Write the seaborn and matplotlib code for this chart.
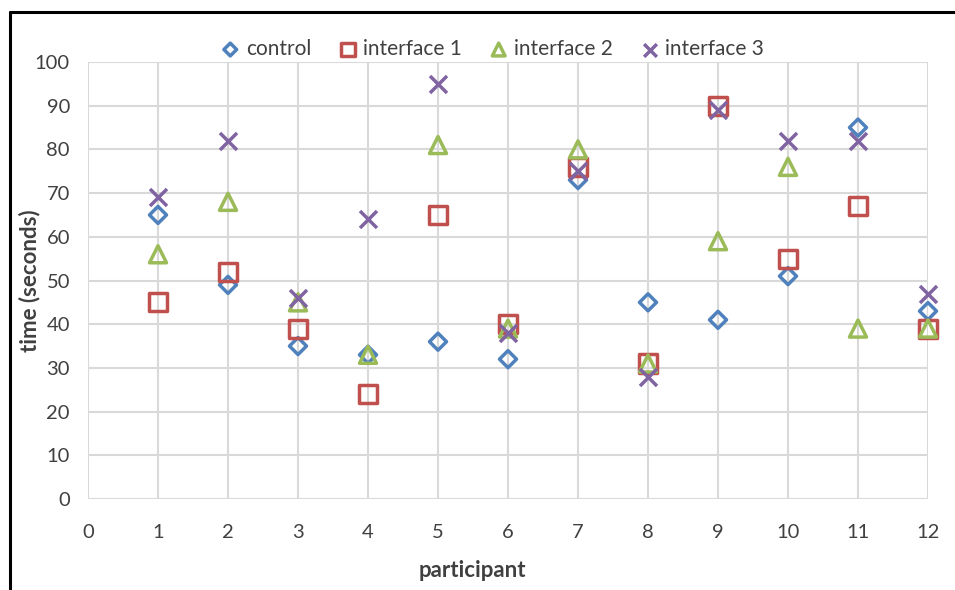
import matplotlib
matplotlib.use("Agg")
import matplotlib.pyplot as plt
from matplotlib.lines import Line2D
import seaborn as sns

# participants 1..12, time in seconds
participants = [1, 2, 3, 4, 5, 6, 7, 8, 9, 10, 11, 12]
control = [65, 49, 35, 33, 36, 32, 73, 45, 41, 51, 85, 43]
interface_1 = [45, 52, 39, 24, 65, 40, 76, 31, 90, 55, 67, 39]
interface_2 = [56, 68, 45, 33, 81, 39, 80, 31, 59, 76, 39, 39]
interface_3 = [69, 82, 46, 64, 95, 38, 75, 28, 89, 82, 82, 47]

series_names = ["control", "interface 1", "interface 2", "interface 3"]
series_vals = [control, interface_1, interface_2, interface_3]
colors = ["#4F81BD", "#C0504D", "#9BBB59", "#8064A2"]
markers = ["D", "s", "^", "x"]
sizes = [75, 170, 150, 150]

sns.set_style("white")
plt.rcParams["font.family"] = ["Lato", "DejaVu Sans"]

fig = plt.figure(figsize=(9.55, 5.9), dpi=100)
ax = fig.add_axes([88 / 955, 1 - 499 / 590, 840 / 955, 437 / 590])

for name, vals, col, mk, sz in zip(series_names, series_vals, colors, markers, sizes):
    if mk == "x":
        sns.scatterplot(x=participants, y=vals, marker=mk, s=sz, color=col,
                        linewidth=2.5, label=name, ax=ax, zorder=3, clip_on=False)
    else:
        sns.scatterplot(x=participants, y=vals, marker=mk, s=sz, color=col,
                        facecolor="none", edgecolor=col, linewidth=2.5,
                        label=name, ax=ax, zorder=3, clip_on=False)

ax.set_xlim(0, 12)
ax.set_ylim(0, 100)
ax.set_xticks(range(0, 13))
ax.set_yticks(range(0, 101, 10))
ax.grid(True, color="#D9D9D9", linewidth=1.5, zorder=0)
ax.set_axisbelow(True)
for s in ax.spines.values():
    s.set_visible(False)
ax.tick_params(axis="both", which="both", length=7, width=1.5, color="#D9D9D9",
               labelsize=14.5, labelcolor="#404040")
ax.tick_params(axis="x", pad=11)
ax.tick_params(axis="y", pad=6)

ax.set_xlabel("participant", fontsize=16, fontweight="bold", color="#404040")
ax.set_ylabel("time (seconds)", fontsize=16, fontweight="bold", color="#404040")
ax.xaxis.set_label_coords((472 - 88) / 840, -(560 - 499) / 437)
ax.yaxis.set_label_coords(-(88 - 40) / 840, 0.5)

leg = ax.legend(loc="center", bbox_to_anchor=(492 / 955, 1 - 49 / 590),
                bbox_transform=fig.transFigure, ncol=4, frameon=False,
                fontsize=15, handlelength=1.0, handletextpad=0.25,
                columnspacing=1.25, markerscale=0.75, borderpad=0)
for t in leg.get_texts():
    t.set_color("#404040")

# chart border (left and top edges visible in the reference)
fig.add_artist(Line2D([10 / 955, 10 / 955], [0, 1 - 12 / 590], transform=fig.transFigure,
                      color="black", linewidth=2.2))
fig.add_artist(Line2D([10 / 955, 1], [1 - 12 / 590, 1 - 12 / 590], transform=fig.transFigure,
                      color="black", linewidth=2.2))

fig.savefig("out.png", dpi=100)
